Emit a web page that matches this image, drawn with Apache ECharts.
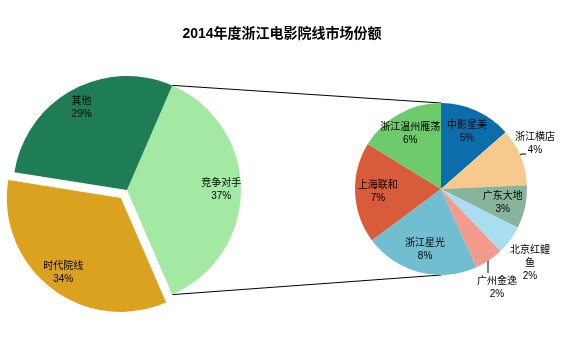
<!DOCTYPE html>
<html>
<head>
<meta charset="utf-8">
<script src="https://cdn.jsdelivr.net/npm/echarts@6/dist/echarts.min.js"></script>
<style>
  html, body { margin: 0; padding: 0; background: #fff; }
  #chart { width: 564px; height: 353px; }
</style>
</head>
<body>
<div id="chart"></div>
<script>
const titleText = '2014年度浙江电影院线市场份额'

// main pie (percent of whole market)
const mainNames = ['竞争对手', '时代院线', '其他']
const mainValues = [37, 34, 29]
const mainColors = ['#a3e9a4', '#daa21e', '#1e7d55']

// breakdown of 竞争对手
const subNames = ['中影星美', '浙江横店', '广东大地', '北京红鲤鱼', '广州金逸', '浙江星光', '上海联和', '浙江温州雁荡']
const subValues = [5, 4, 3, 2, 2, 8, 7, 6]
const subColors = ['#0c6dad', '#f7c98c', '#88b49c', '#a9ddf0', '#f39c8e', '#72bed1', '#d85b3a', '#6dcb6b']

const leftCenter = [127, 190]
const leftR = 114
const rightCenter = [441, 189]
const rightR = 86

// outside label spots, relative to the right pie centre (text centre, leader line)
const outsideLabels = {
  '浙江横店': { pos: [94, -45], line: [[77, -33], [81, -35], [85, -35]] },
  '北京红鲤鱼': { pos: [89, 74], line: null },
  '广州金逸': { pos: [56, 99], line: [[47, 71], [47, 84], [47, 84]] }
}

const mainTotal = mainValues.reduce((a, b) => a + b, 0)
// 竞争对手 slice centred on 3 o'clock
const leftStart = mainValues[0] / mainTotal * 180

const fontFamily = 'Arial, "Liberation Sans", "Noto Sans CJK SC", sans-serif'
const labelFont = { fontSize: 10, color: '#000', fontFamily: fontFamily, lineHeight: 13 }

const mainData = mainNames.map((n, i) => ({
  name: n,
  value: mainValues[i],
  selected: n === '时代院线',
  itemStyle: { color: mainColors[i] }
}))

const subData = subNames.map((n, i) => ({ name: n, value: subValues[i], itemStyle: { color: subColors[i] } }))

// connector lines from the 竞争对手 slice edges to the right pie
const rad = d => d * Math.PI / 180
const topL = [leftCenter[0] + leftR * Math.cos(rad(leftStart)), leftCenter[1] - leftR * Math.sin(rad(leftStart))]
const botL = [leftCenter[0] + leftR * Math.cos(rad(-leftStart)), leftCenter[1] - leftR * Math.sin(rad(-leftStart))]
const topR = [rightCenter[0], rightCenter[1] - rightR]
const botR = [rightCenter[0], rightCenter[1] + rightR]

const shift = p => [rightCenter[0] + p[0], rightCenter[1] + p[1]]

const chart = echarts.init(document.getElementById('chart'))
chart.setOption({
  backgroundColor: '#fff',
  animation: false,
  title: {
    text: titleText,
    left: 'center',
    top: 22,
    textStyle: { fontSize: 14, fontWeight: 'bold', color: '#000', fontFamily: fontFamily }
  },
  graphic: [
    { type: 'line', shape: { x1: topL[0], y1: topL[1], x2: topR[0], y2: topR[1] }, style: { stroke: '#000', lineWidth: 1 }, z: 1 },
    { type: 'line', shape: { x1: botL[0], y1: botL[1], x2: botR[0], y2: botR[1] }, style: { stroke: '#000', lineWidth: 1 }, z: 1 }
  ],
  series: [
    {
      type: 'pie',
      center: leftCenter,
      radius: leftR,
      startAngle: leftStart,
      selectedMode: 'single',
      selectedOffset: 10,
      silent: true,
      label: { show: false },
      labelLine: { show: false },
      data: mainData
    },
    {
      // label ring for main pie
      type: 'pie',
      center: leftCenter,
      radius: [leftR * 0.6, leftR],
      startAngle: leftStart,
      selectedMode: 'single',
      selectedOffset: 10,
      silent: true,
      itemStyle: { color: 'transparent' },
      label: Object.assign({ show: true, position: 'inside', formatter: '{b}\n{c}%' }, labelFont),
      data: mainData.map(d => ({ name: d.name, value: d.value, selected: d.selected }))
    },
    {
      type: 'pie',
      center: rightCenter,
      radius: rightR,
      startAngle: 90,
      silent: true,
      label: { show: false },
      labelLine: { show: false },
      data: subData
    },
    {
      // label ring for breakdown pie
      type: 'pie',
      center: rightCenter,
      radius: [rightR * 0.4, rightR],
      startAngle: 90,
      silent: true,
      itemStyle: { color: 'transparent' },
      label: Object.assign({ show: true, position: 'inside', formatter: '{b}\n{c}%', overflow: 'none' }, labelFont),
      labelLine: { show: true, length: 4, length2: 3, lineStyle: { color: '#000', width: 1 } },
      labelLayout: function (params) {
        const o = outsideLabels[subNames[params.dataIndex]]
        if (!o) return {}
        const res = { x: shift(o.pos)[0], y: shift(o.pos)[1], align: 'center', verticalAlign: 'middle' }
        if (o.line) res.labelLinePoints = o.line.map(shift)
        return res
      },
      data: subNames.map((n, i) => {
        const item = { name: n, value: subValues[i] }
        if (outsideLabels[n]) {
          item.label = { position: 'outside' }
          if (n === '北京红鲤鱼') {
            item.label.formatter = '北京红鲤\n鱼\n{c}%'
            item.labelLine = { show: false }
          }
        }
        return item
      })
    }
  ]
})
</script>
</body>
</html>
